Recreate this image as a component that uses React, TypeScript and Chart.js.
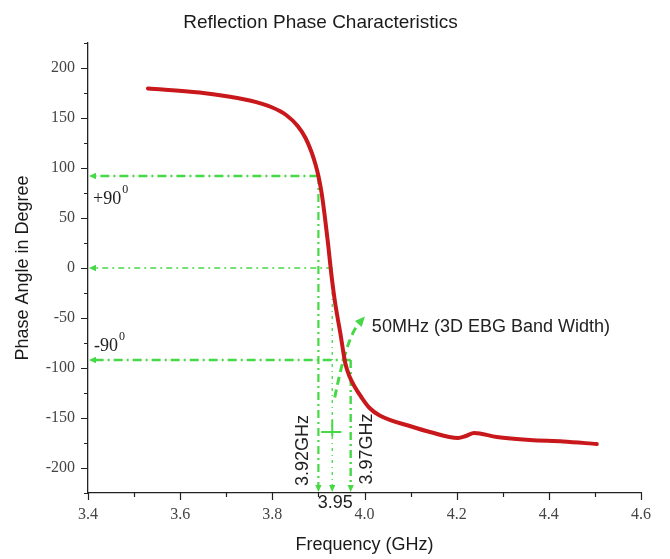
import React, { useEffect, useRef } from 'react';
import { Chart, registerables } from 'chart.js';

Chart.register(...registerables);

// Curve data
const frequencyGHz = [
  3.530, 3.642, 3.751, 3.800, 3.830, 3.855, 3.872, 3.885, 3.894, 3.900,
  3.907, 3.914, 3.921, 3.927, 3.9355, 3.9427, 3.9479, 3.9535, 3.9587, 3.968,
  3.979, 3.993, 4.011, 4.033, 4.105, 4.142, 4.203, 4.220, 4.238, 4.287,
  4.359, 4.431, 4.504,
];
const phaseDeg = [
  179.5, 175.5, 167.5, 160.5, 153, 142, 130, 116, 103, 92,
  75, 51, 24, -2, -32.5, -52.5, -66, -82.5, -96, -109,
  -119, -129, -140, -147.5, -159, -164, -170, -168, -165, -169,
  -172, -173.5, -176,
];

// Annotation values
const markerPhases = [92, 0, -92]; // +90, 0, -90 guide lines
const markerFreqs = [3.90, 3.93, 3.97]; // lower, centre, upper frequency
const markerFreqLabels = ['3.92GHz', '3.95', '3.97GHz'];
const phaseLabels = ['+90', '-90'];
const bandLabel = '50MHz (3D EBG Band Width)';
const bandArrowPath = [
  [3.9355, -129.5],
  [3.9615, -69],
  [3.9965, -50.5],
];
const bandLabelPos = [4.016, -59.5];
const crossFreqs = [3.906, 3.950];
const crossPhase = -164;

// Axis ranges
const xMin = 3.4, xMax = 4.6, xStep = 0.1;
const yMin = -225, yMax = 225, yStep = 25;

const GREEN = '#46d846';
const RED = '#c8181c';
const SANS = "'Liberation Sans', Arial, sans-serif";
const SERIF = "'Liberation Serif', 'Times New Roman', serif";

function arrowHead(ctx: CanvasRenderingContext2D, tx: number, ty: number, dx: number, dy: number, size: number) {
  const len = Math.hypot(dx, dy) || 1;
  const ux = dx / len, uy = dy / len;
  const px = -uy, py = ux;
  ctx.beginPath();
  ctx.moveTo(tx, ty);
  ctx.lineTo(tx - ux * size + px * size * 0.45, ty - uy * size + py * size * 0.45);
  ctx.lineTo(tx - ux * size - px * size * 0.45, ty - uy * size - py * size * 0.45);
  ctx.closePath();
  ctx.fill();
}

const annotationPlugin = {
  id: 'phaseAnnotations',
  beforeDatasetsDraw(chart: any) {
    const { ctx, scales } = chart;
    const xs = scales.x, ys = scales.y;
    const X = (v: number) => xs.getPixelForValue(v);
    const Y = (v: number) => ys.getPixelForValue(v);
    const left = chart.chartArea.left;
    const bottom = chart.chartArea.bottom;
    ctx.save();
    ctx.strokeStyle = GREEN;
    ctx.fillStyle = GREEN;
    ctx.lineCap = 'butt';

    const widths = [2.6, 1.4, 2.6];
    const dashes = [[9, 4, 2, 4], [6, 4, 2, 4], [9, 4, 2, 4]];
    // Horizontal guides
    markerPhases.forEach((p, i) => {
      ctx.lineWidth = widths[i];
      ctx.setLineDash(dashes[i]);
      ctx.beginPath();
      ctx.moveTo(X(markerFreqs[i]), Y(p));
      ctx.lineTo(left + 6, Y(p));
      ctx.stroke();
      ctx.setLineDash([]);
      arrowHead(ctx, left + 1, Y(p), -1, 0, 7);
    });
    // Vertical guides
    const vWidths = [2.2, 1.3, 2.4];
    const vDashes = [[8, 4, 2, 4], [3, 4, 1, 4], [8, 4, 2, 4]];
    markerFreqs.forEach((f, i) => {
      ctx.lineWidth = vWidths[i];
      ctx.setLineDash(vDashes[i]);
      ctx.beginPath();
      ctx.moveTo(X(f), Y(markerPhases[i]));
      ctx.lineTo(X(f), bottom - 6);
      ctx.stroke();
      ctx.setLineDash([]);
      arrowHead(ctx, X(f), bottom - 1, 0, 1, 7);
    });
    // Small cross marking the band
    ctx.lineWidth = 2;
    ctx.beginPath();
    ctx.moveTo(X(crossFreqs[0]), Y(crossPhase));
    ctx.lineTo(X(crossFreqs[1]), Y(crossPhase));
    ctx.moveTo(X(markerFreqs[1]), Y(crossPhase) - 12);
    ctx.lineTo(X(markerFreqs[1]), Y(crossPhase) + 4);
    ctx.stroke();
    // Curved arrow
    const [p0, c, p2] = bandArrowPath.map(([f, p]) => [X(f), Y(p)]);
    ctx.lineWidth = 3;
    ctx.setLineDash([8, 5]);
    ctx.beginPath();
    ctx.moveTo(p0[0], p0[1]);
    ctx.quadraticCurveTo(c[0], c[1], p2[0] - 4, p2[1] + 5);
    ctx.stroke();
    ctx.setLineDash([]);
    arrowHead(ctx, p2[0] + 2, p2[1] - 2, p2[0] - c[0], p2[1] - c[1], 10);

    // Texts
    ctx.fillStyle = '#222';
    ctx.font = `18px ${SANS}`;
    ctx.textAlign = 'left';
    ctx.textBaseline = 'middle';
    ctx.fillText(bandLabel, X(bandLabelPos[0]), Y(bandLabelPos[1]));

    // rotated frequency labels
    const rot = (text: string, cx: number, cy: number) => {
      ctx.save();
      ctx.translate(cx, cy);
      ctx.rotate(-Math.PI / 2);
      ctx.textAlign = 'center';
      ctx.textBaseline = 'middle';
      ctx.fillText(text, 0, 0);
      ctx.restore();
    };
    rot(markerFreqLabels[0], X(markerFreqs[0]) - 15, Y(-182.5));
    rot(markerFreqLabels[2], X(markerFreqs[2]) + 16, Y(-181));

    // centre frequency under axis
    ctx.textAlign = 'center';
    ctx.textBaseline = 'middle';
    ctx.fillText(markerFreqLabels[1], X(markerFreqs[1]) + 3, bottom + 10);

    // +90 / -90 labels with superscript 0
    const phaseText = (text: string, x: number, y: number) => {
      ctx.font = `18px ${SERIF}`;
      ctx.textAlign = 'left';
      ctx.textBaseline = 'middle';
      ctx.fillText(text, x, y);
      const w = ctx.measureText(text).width;
      ctx.font = `12px ${SERIF}`;
      ctx.fillText('0', x + w + 1, y - 9);
    };
    phaseText(phaseLabels[0], left + 5, Y(markerPhases[0]) + 23);
    phaseText(phaseLabels[1], left + 6, Y(markerPhases[2]) - 14);

    ctx.restore();
  },
  afterDraw(chart: any) {
    const { ctx, scales } = chart;
    const xs = scales.x, ys = scales.y;
    ctx.save();
    ctx.strokeStyle = '#222';
    ctx.lineWidth = 1.2;
    ctx.beginPath();
    xs.ticks.forEach((t: any) => {
      const major = Math.round(t.value * 10) % 2 === 0;
      const px = Math.round(xs.getPixelForValue(t.value)) + 0.5;
      ctx.moveTo(px, xs.top);
      ctx.lineTo(px, xs.top + (major ? 7 : 4));
    });
    ys.ticks.forEach((t: any) => {
      const major = Math.round(t.value) % 50 === 0;
      const py = Math.round(ys.getPixelForValue(t.value)) + 0.5;
      ctx.moveTo(ys.right, py);
      ctx.lineTo(ys.right - (major ? 7 : 4), py);
    });
    ctx.stroke();
    ctx.restore();
  },
};

export default function App() {
  const canvasRef = useRef<HTMLCanvasElement | null>(null);

  useEffect(() => {
    if (!canvasRef.current) return;
    const chart = new Chart(canvasRef.current, {
      type: 'line',
      data: {
        datasets: [
          {
            label: 'Reflection Phase',
            data: frequencyGHz.map((f, i) => ({ x: f, y: phaseDeg[i] })),
            borderColor: RED,
            backgroundColor: RED,
            borderWidth: 4,
            borderCapStyle: 'round',
            borderJoinStyle: 'round',
            pointRadius: 0,
            cubicInterpolationMode: 'monotone',
            fill: false,
          },
        ],
      },
      options: {
        animation: false,
        responsive: true,
        maintainAspectRatio: false,
        layout: { padding: { left: 0, right: 29, top: 0, bottom: 0 } },
        plugins: {
          legend: { display: false },
          tooltip: { enabled: false },
          title: {
            display: true,
            text: 'Reflection Phase Characteristics',
            color: '#1a1a1a',
            font: { family: SANS, size: 19, weight: 'normal' },
            padding: { top: 11, bottom: 9.2 },
          },
        },
        scales: {
          x: {
            type: 'linear',
            min: xMin,
            max: xMax,
            afterFit: (scale: any) => { scale.height = 66; },
            ticks: {
              stepSize: xStep,
              autoSkip: false,
              maxRotation: 0,
              padding: 5,
              color: '#444',
              font: { family: SERIF, size: 16 },
              callback: (v: any) => (Math.round(Number(v) * 10) % 2 === 0 ? Number(v).toFixed(1) : ''),
            },
            grid: { display: true, drawOnChartArea: false, drawTicks: true, tickLength: 7, tickColor: 'rgba(0,0,0,0)' },
            border: { display: true, color: '#222', width: 1.3 },
            title: {
              display: true,
              text: 'Frequency (GHz)',
              color: '#1a1a1a',
              font: { family: SANS, size: 18 },
              padding: { top: 0, bottom: 3 },
            },
          },
          y: {
            type: 'linear',
            min: yMin,
            max: yMax,
            afterFit: (scale: any) => { scale.width = 88; },
            ticks: {
              stepSize: yStep,
              autoSkip: false,
              padding: 6,
              color: '#444',
              font: { family: SERIF, size: 16 },
              callback: (v: any) => (Math.round(Number(v)) % 50 === 0 ? String(Math.round(Number(v))) : ''),
            },
            grid: { display: true, drawOnChartArea: false, drawTicks: true, tickLength: 7, tickColor: 'rgba(0,0,0,0)' },
            border: { display: true, color: '#222', width: 1.3 },
            title: {
              display: true,
              text: 'Phase Angle in Degree',
              color: '#1a1a1a',
              font: { family: SANS, size: 18 },
              padding: { top: 12, bottom: 0 },
            },
          },
        },
      } as any,
      plugins: [annotationPlugin],
    });
    return () => chart.destroy();
  }, []);

  return (
    <div style={{ position: 'absolute', left: 0, top: 0, width: 670, height: 559, background: '#fff' }}>
      <canvas ref={canvasRef} />
    </div>
  );
}
